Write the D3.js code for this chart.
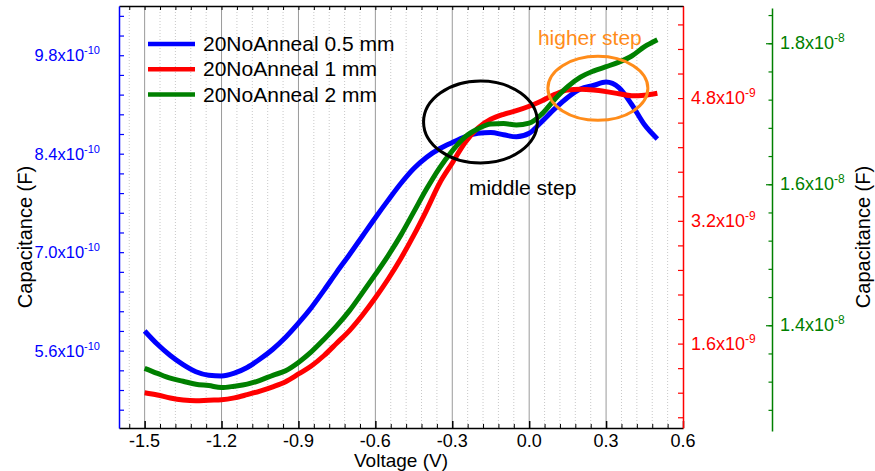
<!DOCTYPE html>
<html>
<head>
<meta charset="utf-8">
<script src="https://cdn.jsdelivr.net/npm/d3@7"></script>
<style>
  body { margin: 0; background: #fff; }
  svg { font-family: Arial, "Liberation Sans", sans-serif; }
</style>
</head>
<body>
<div id="chart"></div>
<script>
// voltage sweep (V)
const voltage = [-1.50, -1.45, -1.40, -1.35, -1.30, -1.25, -1.20, -1.15, -1.10, -1.05,
  -1.00, -0.95, -0.90, -0.85, -0.80, -0.75, -0.70, -0.65, -0.60, -0.55,
  -0.50, -0.45, -0.40, -0.35, -0.30, -0.25, -0.20, -0.15, -0.10, -0.05,
  0.00, 0.05, 0.10, 0.15, 0.20, 0.25, 0.30, 0.35, 0.40, 0.45, 0.50];

// 0.5 mm, in units of 1e-10 F (left axis)
const cap05mm = [5.88, 5.69, 5.53, 5.40, 5.30, 5.25, 5.24, 5.28, 5.36, 5.48,
  5.62, 5.79, 5.99, 6.21, 6.46, 6.72, 6.97, 7.23, 7.49, 7.74,
  7.98, 8.19, 8.35, 8.47, 8.56, 8.64, 8.69, 8.70, 8.67, 8.64,
  8.69, 8.86, 9.04, 9.20, 9.32, 9.37, 9.42, 9.34, 9.10, 8.81, 8.61];

// 1 mm, in units of 1e-9 F (red axis)
const cap1mm = [0.960, 0.930, 0.891, 0.865, 0.855, 0.863, 0.868, 0.892, 0.935, 0.982,
  1.037, 1.104, 1.204, 1.308, 1.445, 1.608, 1.773, 1.973, 2.197, 2.442,
  2.713, 3.013, 3.341, 3.687, 3.954, 4.220, 4.410, 4.523, 4.589, 4.635,
  4.693, 4.766, 4.848, 4.905, 4.914, 4.905, 4.884, 4.856, 4.830, 4.837, 4.862];

// 2 mm, in units of 1e-8 F (green axis)
const cap2mm = [1.3389, 1.3317, 1.3249, 1.3206, 1.3164, 1.3144, 1.3116, 1.3136, 1.3165, 1.3219,
  1.3290, 1.3355, 1.3473, 1.3622, 1.3801, 1.3994, 1.4211, 1.4463, 1.4721, 1.4989,
  1.5282, 1.5608, 1.5935, 1.6230, 1.6474, 1.6673, 1.6785, 1.6855, 1.6860, 1.6840,
  1.6866, 1.6999, 1.7206, 1.7384, 1.7518, 1.7604, 1.7667, 1.7733, 1.7819, 1.7952, 1.8050];

const seriesNames = ["20NoAnneal 0.5 mm", "20NoAnneal 1 mm", "20NoAnneal 2 mm"];

const xTicks = [-1.5, -1.2, -0.9, -0.6, -0.3, 0.0, 0.3, 0.6];
const blueTicks = [5.6, 7.0, 8.4, 9.8];   // x1e-10
const redTicks = [1.6, 3.2, 4.8];         // x1e-9
const greenTicks = [1.4, 1.6, 1.8];       // x1e-8

// annotations, in voltage / left-axis units
const middleStep = {label: "middle step", cx: -0.19, cy: 8.85, rx: 0.222, ry: 0.583, tx: -0.235, ty: 7.81};
const higherStep = {label: "higher step", cx: 0.268, cy: 9.33, rx: 0.195, ry: 0.455, tx: 0.034, ty: 9.945};

drawChart();

function drawChart() {
    const width = 875, height = 471;
    const plot = {left: 119, right: 683, top: 6, bottom: 428};

    const svg = d3.select("#chart")
      .append("svg")
      .attr("width", width)
      .attr("height", height);

    const x = d3.scaleLinear().domain([-1.6, 0.6]).range([plot.left, plot.right]);
    const yBlue = d3.scaleLinear().domain([4.5, 10.5]).range([plot.bottom, plot.top]);
    const yRed = d3.scaleLinear().domain([0.5, 6.0]).range([plot.bottom, plot.top]);
    const yGreen = d3.scaleLinear().domain([1.25, 1.85]).range([431, 8]);

    // vertical grid
    const xMinor = d3.range(-1.56, 0.6, 0.06).map(v => +v.toFixed(2));
    const isMajor = v => xTicks.some(t => Math.abs(t - v) < 1e-6);
    svg.append("g")
      .selectAll("line")
      .data(xMinor.filter(v => !isMajor(v)))
      .join("line")
        .attr("x1", d => x(d)).attr("x2", d => x(d))
        .attr("y1", plot.top).attr("y2", plot.bottom)
        .attr("stroke", "#c8c8c8")
        .attr("stroke-width", 1)
        .attr("stroke-dasharray", "1,2");
    svg.append("g")
      .selectAll("line")
      .data(xTicks.filter(v => v < 0.55))
      .join("line")
        .attr("x1", d => x(d)).attr("x2", d => x(d))
        .attr("y1", plot.top).attr("y2", plot.bottom)
        .attr("stroke", "#9a9a9a")
        .attr("stroke-width", 1);

    // curves
    const series = [
      {values: cap05mm, y: yBlue, color: "#0000ff"},
      {values: cap1mm, y: yRed, color: "#ff0000"},
      {values: cap2mm, y: yGreen, color: "#008000"}
    ];
    series.forEach(function (s) {
        const line = d3.line()
          .x((d, j) => x(voltage[j]))
          .y(d => s.y(d))
          .curve(d3.curveMonotoneX);
        svg.append("path")
          .datum(s.values)
          .attr("fill", "none")
          .attr("stroke", s.color)
          .attr("stroke-width", 5)
          .attr("stroke-linejoin", "round")
          .attr("d", line);
    });

    // bottom axis
    const xMinorTicks = xMinor.filter(v => !isMajor(v));
    svg.append("g")
      .attr("transform", `translate(0, ${plot.bottom})`)
      .call(d3.axisTop(x).tickValues(xMinorTicks).tickSize(4).tickFormat("").tickSizeOuter(0))
      .call(g => g.selectAll("line").attr("stroke", "#000"))
      .call(g => g.select(".domain").attr("stroke", "#000").attr("stroke-width", 1.5));
    svg.append("g")
      .attr("transform", `translate(0, ${plot.bottom})`)
      .call(d3.axisTop(x).tickValues(xTicks).tickSize(7).tickFormat("").tickSizeOuter(0))
      .call(g => g.selectAll("line").attr("stroke", "#000").attr("stroke-width", 1.5))
      .call(g => g.select(".domain").remove());
    svg.append("g")
      .selectAll("text")
      .data(xTicks)
      .join("text")
        .attr("x", d => x(d))
        .attr("y", 447)
        .attr("text-anchor", "middle")
        .style("font-size", "18px")
        .text(d => d3.format(".1f")(d).replace("−", "-"));

    // top axis
    svg.append("g")
      .attr("transform", `translate(0, ${plot.top})`)
      .call(d3.axisBottom(x).tickValues(xMinor).tickSize(4).tickFormat("").tickSizeOuter(0))
      .call(g => g.selectAll("line").attr("stroke", "#000"))
      .call(g => g.select(".domain").attr("stroke", "#000").attr("stroke-width", 1.5));

    // left (blue) axis
    const blueMinor = d3.range(4.76, 10.5, 0.28).map(v => +v.toFixed(2));
    svg.append("g")
      .attr("transform", `translate(${plot.left}, 0)`)
      .call(d3.axisRight(yBlue).tickValues(blueMinor).tickSize(5).tickFormat("").tickSizeOuter(0))
      .call(g => g.selectAll("line").attr("stroke", "#0000ff").attr("stroke-width", 1.2))
      .call(g => g.select(".domain").attr("stroke", "#0000ff").attr("stroke-width", 1.5));
    sciLabels(svg, blueTicks, yBlue, -10, 100, "end", "#0000ff", 16.5, 11);

    // right (red) axis
    const redMinor = d3.range(0.64, 6.0, 0.32).map(v => +v.toFixed(2));
    svg.append("g")
      .attr("transform", `translate(${plot.right}, 0)`)
      .call(d3.axisLeft(yRed).tickValues(redMinor).tickSize(5).tickFormat("").tickSizeOuter(0))
      .call(g => g.selectAll("line").attr("stroke", "#ff0000").attr("stroke-width", 1.2))
      .call(g => g.select(".domain").attr("stroke", "#ff0000").attr("stroke-width", 1.5));
    sciLabels(svg, redTicks, yRed, -9, 691, "start", "#ff0000", 18, 12);

    // outer (green) axis
    const greenMinor = d3.range(1.28, 1.85, 0.04).map(v => +v.toFixed(2));
    const greenX = 772;
    svg.append("g")
      .attr("transform", `translate(${greenX}, 0)`)
      .call(d3.axisLeft(yGreen).tickValues(greenMinor).tickSize(3.5).tickFormat("").tickSizeOuter(0))
      .call(g => g.selectAll("line").attr("stroke", "#008000").attr("stroke-width", 1.2))
      .call(g => g.select(".domain").attr("stroke", "#008000").attr("stroke-width", 1.5));
    svg.append("g")
      .attr("transform", `translate(${greenX}, 0)`)
      .call(d3.axisLeft(yGreen).tickValues(greenTicks).tickSize(6).tickFormat("").tickSizeOuter(0))
      .call(g => g.selectAll("line").attr("stroke", "#008000").attr("stroke-width", 1.2))
      .call(g => g.select(".domain").remove());
    sciLabels(svg, greenTicks, yGreen, -8, 780, "start", "#008000", 18, 12);

    // axis titles
    svg.append("text")
      .attr("transform", "translate(32, 237) rotate(-90)")
      .attr("text-anchor", "middle")
      .style("font-size", "20px")
      .text("Capacitance (F)");
    svg.append("text")
      .attr("transform", "translate(870, 237) rotate(-90)")
      .attr("text-anchor", "middle")
      .style("font-size", "20px")
      .text("Capacitance (F)");
    svg.append("text")
      .attr("x", 401)
      .attr("y", 467)
      .attr("text-anchor", "middle")
      .style("font-size", "19px")
      .text("Voltage (V)");

    // legend
    const legend = svg.append("g");
    seriesNames.forEach(function (name, i) {
        const ly = 44 + i * 25.3;
        legend.append("line")
          .attr("x1", 148).attr("x2", 195)
          .attr("y1", ly).attr("y2", ly)
          .attr("stroke", series[i].color)
          .attr("stroke-width", 4.5);
        legend.append("text")
          .attr("x", 203)
          .attr("y", ly + 7)
          .style("font-size", "21px")
          .text(name);
    });

    // annotations
    [[middleStep, "#000"], [higherStep, "#ff8c1a"]].forEach(function (a) {
        const s = a[0], c = a[1];
        svg.append("ellipse")
          .attr("cx", x(s.cx))
          .attr("cy", yBlue(s.cy))
          .attr("rx", x(s.cx + s.rx) - x(s.cx))
          .attr("ry", yBlue(s.cy - s.ry) - yBlue(s.cy))
          .attr("fill", "none")
          .attr("stroke", c)
          .attr("stroke-width", 3);
        svg.append("text")
          .attr("x", x(s.tx))
          .attr("y", yBlue(s.ty))
          .attr("fill", c)
          .style("font-size", "21px")
          .text(s.label);
    });
}

function sciLabels(svg, ticks, scale, exp, xPos, anchor, color, size, supSize) {
    const t = svg.append("g")
      .selectAll("text")
      .data(ticks)
      .join("text")
        .attr("x", xPos)
        .attr("y", d => scale(d) + 6)
        .attr("text-anchor", anchor)
        .attr("fill", color)
        .style("font-size", size + "px");
    t.append("tspan").text(d => d.toFixed(1) + "x10");
    t.append("tspan")
      .attr("dy", -7)
      .style("font-size", supSize + "px")
      .text(String(exp));
}
</script>
</body>
</html>
